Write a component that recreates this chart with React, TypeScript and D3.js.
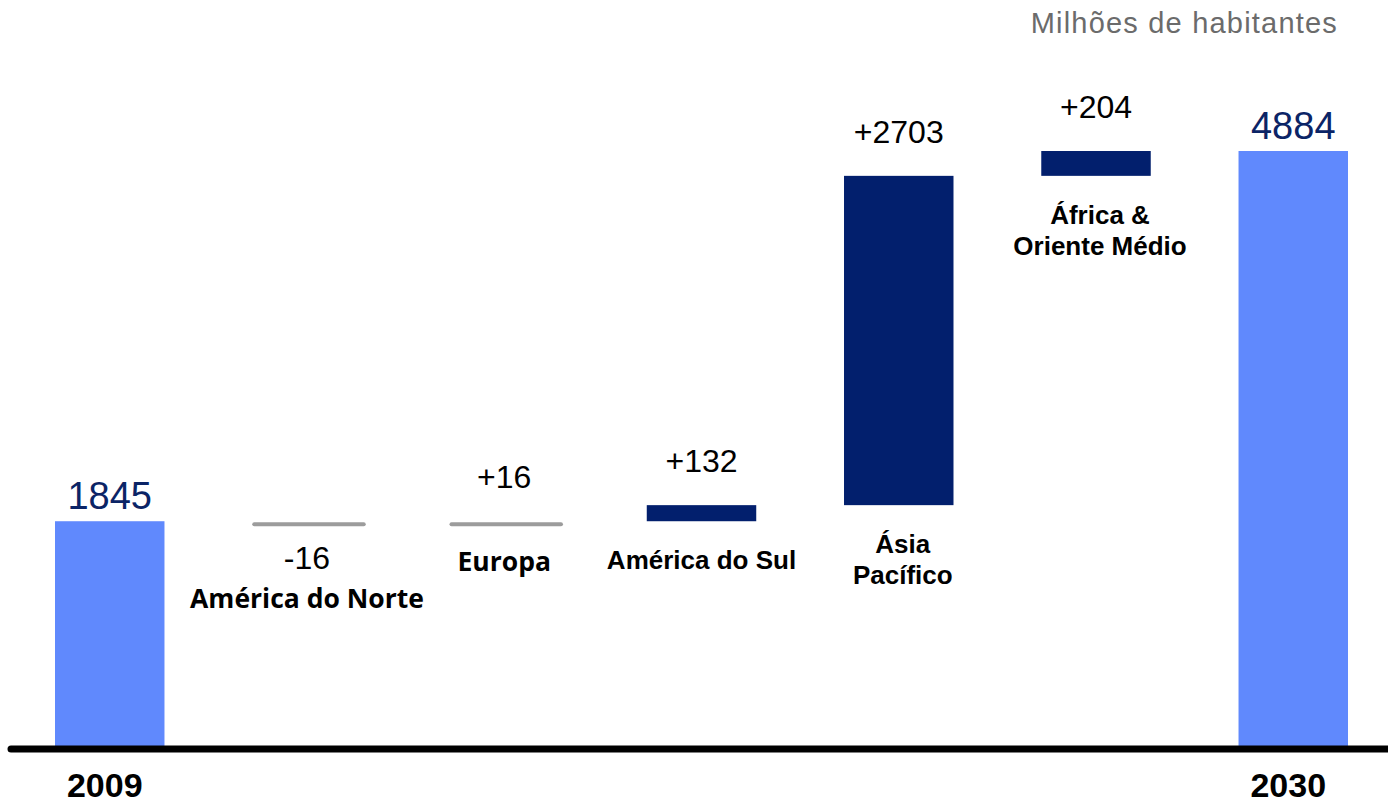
import * as d3 from "d3"
import React from "react"

const categories = ["2009", "América do Norte", "Europa", "América do Sul", "Ásia Pacífico", "África & Oriente Médio", "2030"]
const labelLines = [["2009"], ["América do Norte"], ["Europa"], ["América do Sul"], ["Ásia", "Pacífico"], ["África &", "Oriente Médio"], ["2030"]]
const values = [1845, -16, 16, 132, 2703, 204, 4884]
const kinds = ["total", "delta", "delta", "delta", "delta", "delta", "total"]
const valueLabels = ["1845", "-16", "+16", "+132", "+2703", "+204", "4884"]
const unitLabel = "Milhões de habitantes"

// the two labels that were set in a different typeface in the source
const altFontLabels = new Set(["América do Norte", "Europa"])

const width = 1388,
  height = 803
const baseline = 749
const arial = "'Liberation Sans', Arial, sans-serif"
const openSans = "'Open Sans', sans-serif"

export default function App() {
  const x = d3
    .scaleBand<string>()
    .domain(categories)
    .range([55, 1348])
    .paddingInner(0.445)
    .paddingOuter(0)

  const y = d3.scaleLinear().domain([0, 4884]).range([746, 151])

  // running totals for the waterfall
  let running = 0
  const steps = values.map((v, i) => {
    let start, end
    if (kinds[i] === "total") {
      start = 0
      end = v
      running = v
    } else {
      start = running
      end = running + v
      running = end
    }
    return { cat: categories[i], v, kind: kinds[i], start, end, label: valueLabels[i], lines: labelLines[i] }
  })

  return (
    <svg
      width={width}
      height={height}
      style={{ position: "absolute", left: 0, top: 0, background: "#fff" }}
    >
      <text x={1338} y={33} textAnchor="end" fontFamily={arial} fontSize={29} letterSpacing={1.2} fill="#6b6b6b">
        {unitLabel}
      </text>

      {steps.map((s) => {
        const x0 = x(s.cat)
        const bw = x.bandwidth()
        const cx = x0 + bw / 2
        const top = y(Math.max(s.start, s.end))
        const bottom = y(Math.min(s.start, s.end))
        const small = Math.abs(s.v) < 20
        const catFont = altFontLabels.has(s.cat) ? openSans : arial

        if (s.kind === "total") {
          return (
            <g key={s.cat}>
              <rect x={x0} y={top} width={bw} height={bottom - top} fill="#6089fd" />
              <text x={cx} y={top - 12} textAnchor="middle" fontFamily={arial} fontSize={38} fill="#0b2466">
                {s.label}
              </text>
              <text x={cx - 5} y={797} textAnchor="middle" fontFamily={arial} fontWeight="bold" fontSize={34} fill="#000">
                {s.cat}
              </text>
            </g>
          )
        }

        const neg = s.v < 0
        const valueY = neg ? bottom + 46 : top - 33
        const catY = bottom + (neg ? 85 : 48)
        return (
          <g key={s.cat}>
            {small ? (
              <line
                x1={x0 + 2}
                x2={x0 + bw + 2}
                y1={(top + bottom) / 2 + 2}
                y2={(top + bottom) / 2 + 2}
                stroke="#9c9c9c"
                strokeWidth={4}
                strokeLinecap="round"
              />
            ) : (
              <rect x={x0} y={top} width={bw} height={bottom - top} fill="#021f6d" />
            )}
            <text x={cx} y={valueY} textAnchor="middle" fontFamily={arial} fontSize={32} fill="#000">
              {s.label}
            </text>
            {s.lines.map((ln, j) => (
              <text
                key={ln}
                x={cx + (s.lines.length > 1 ? 4 : 0)}
                y={catY + j * 31}
                textAnchor="middle"
                fontFamily={catFont}
                fontWeight="bold"
                fontSize={catFont === openSans ? 26.5 : 26}
                fill="#000"
              >
                {ln}
              </text>
            ))}
          </g>
        )
      })}

      <line x1={11} x2={1400} y1={baseline} y2={baseline} stroke="#000" strokeWidth={7} strokeLinecap="round" />
    </svg>
  )
}
